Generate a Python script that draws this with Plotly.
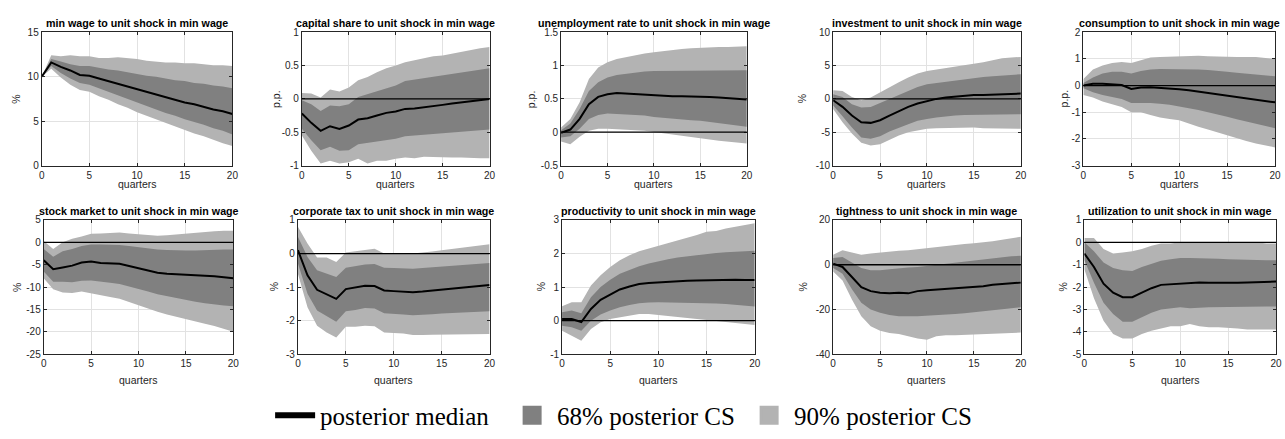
import plotly.graph_objects as go

X = list(range(21))

# ---------------- data ----------------
minwage_med  = [10.0, 11.6, 11.1, 10.7, 10.2, 10.1, 9.8, 9.5, 9.2, 8.9, 8.6, 8.3, 8.0, 7.7, 7.4, 7.1, 6.9, 6.6, 6.3, 6.1, 5.8]
minwage_hi90 = [10.0, 12.4, 12.3, 12.4, 12.3, 12.3, 12.1, 12.1, 12.2, 12.1, 12.0, 11.8, 11.7, 11.6, 11.6, 11.5, 11.5, 11.4, 11.3, 11.3, 11.2]
minwage_hi68 = [10.0, 12.0, 11.7, 11.4, 11.2, 11.2, 11.0, 10.8, 10.7, 10.5, 10.3, 10.1, 10.0, 9.8, 9.6, 9.5, 9.3, 9.2, 9.0, 8.9, 8.7]
minwage_lo68 = [10.0, 11.2, 10.4, 9.8, 9.3, 9.1, 8.7, 8.3, 7.9, 7.5, 7.1, 6.7, 6.3, 5.9, 5.6, 5.2, 4.9, 4.6, 4.2, 3.9, 3.5]
minwage_lo90 = [10.0, 10.9, 9.9, 9.1, 8.5, 8.3, 7.8, 7.4, 6.9, 6.5, 6.0, 5.6, 5.2, 4.8, 4.4, 4.0, 3.6, 3.3, 2.9, 2.5, 2.2]

capshare_med  = [-0.22, -0.36, -0.48, -0.41, -0.45, -0.40, -0.31, -0.29, -0.25, -0.21, -0.19, -0.15, -0.145, -0.13, -0.11, -0.09, -0.07, -0.055, -0.04, -0.02, 0.0]
capshare_hi90 = [0.09, 0.08, 0.02, 0.14, 0.11, 0.17, 0.28, 0.33, 0.40, 0.46, 0.50, 0.55, 0.58, 0.61, 0.64, 0.65, 0.68, 0.70, 0.73, 0.76, 0.78]
capshare_hi68 = [-0.02, -0.08, -0.18, -0.10, -0.11, -0.08, 0.03, 0.07, 0.12, 0.16, 0.20, 0.27, 0.29, 0.31, 0.34, 0.36, 0.38, 0.40, 0.42, 0.44, 0.46]
capshare_lo68 = [-0.45, -0.62, -0.77, -0.72, -0.78, -0.77, -0.68, -0.66, -0.64, -0.62, -0.60, -0.56, -0.55, -0.54, -0.53, -0.51, -0.50, -0.49, -0.48, -0.47, -0.46]
capshare_lo90 = [-0.55, -0.78, -0.97, -0.93, -0.97, -0.95, -0.90, -0.97, -0.93, -0.93, -0.90, -0.88, -0.89, -0.87, -0.87, -0.88, -0.88, -0.88, -0.88, -0.89, -0.89]

unemp_med  = [-0.01, 0.04, 0.20, 0.42, 0.53, 0.57, 0.59, 0.58, 0.58, 0.57, 0.56, 0.54, 0.54, 0.54, 0.54, 0.54, 0.53, 0.52, 0.51, 0.50, 0.49]
unemp_hi90 = [0.07, 0.20, 0.45, 0.80, 0.97, 1.05, 1.10, 1.13, 1.16, 1.18, 1.20, 1.22, 1.24, 1.25, 1.26, 1.27, 1.27, 1.28, 1.28, 1.29, 1.29]
unemp_hi68 = [0.03, 0.13, 0.35, 0.62, 0.75, 0.82, 0.86, 0.88, 0.90, 0.91, 0.92, 0.92, 0.92, 0.92, 0.93, 0.93, 0.93, 0.93, 0.93, 0.93, 0.93]
unemp_lo68 = [-0.08, -0.06, 0.05, 0.20, 0.26, 0.28, 0.28, 0.27, 0.26, 0.25, 0.23, 0.21, 0.20, 0.19, 0.18, 0.17, 0.15, 0.13, 0.11, 0.10, 0.08]
unemp_lo90 = [-0.14, -0.18, -0.07, 0.02, 0.05, 0.05, 0.04, 0.04, 0.03, 0.02, 0.01, -0.01, -0.03, -0.05, -0.07, -0.09, -0.11, -0.13, -0.14, -0.16, -0.17]

invest_med  = [-0.2, -1.2, -2.5, -3.5, -3.6, -3.2, -2.5, -1.8, -1.2, -0.7, -0.3, 0.0, 0.2, 0.35, 0.5, 0.6, 0.6, 0.65, 0.7, 0.75, 0.8]
invest_hi90 = [1.3, 1.2, 0.3, -0.2, 0.2, 1.0, 1.8, 2.5, 3.2, 3.8, 4.2, 4.4, 4.6, 4.8, 5.0, 5.2, 5.5, 5.8, 6.1, 6.2, 6.3]
invest_hi68 = [0.7, 0.3, -0.8, -1.3, -1.2, -0.6, 0.1, 0.7, 1.3, 1.8, 2.2, 2.4, 2.6, 2.8, 3.0, 3.1, 3.3, 3.4, 3.5, 3.6, 3.7]
invest_lo68 = [-1.0, -2.6, -4.3, -5.8, -6.0, -5.6, -4.9, -4.3, -3.8, -3.3, -3.0, -2.8, -2.6, -2.5, -2.4, -2.4, -2.3, -2.3, -2.3, -2.3, -2.3]
invest_lo90 = [-1.5, -3.5, -5.2, -6.6, -7.0, -6.8, -6.1, -5.5, -5.0, -4.7, -4.5, -4.4, -4.3, -4.3, -4.3, -4.3, -4.4, -4.4, -4.5, -4.5, -4.5]

consum_med  = [0.0, 0.07, 0.07, 0.05, 0.02, -0.13, -0.07, -0.06, -0.08, -0.10, -0.14, -0.18, -0.23, -0.28, -0.33, -0.38, -0.44, -0.50, -0.55, -0.59, -0.63]
consum_hi90 = [0.25, 0.6, 0.75, 0.85, 0.88, 0.85, 0.95, 1.05, 1.07, 1.08, 1.10, 1.10, 1.12, 1.10, 1.10, 1.08, 1.07, 1.07, 1.07, 1.03, 1.00]
consum_hi68 = [0.1, 0.3, 0.45, 0.52, 0.52, 0.45, 0.55, 0.6, 0.62, 0.62, 0.62, 0.62, 0.60, 0.58, 0.56, 0.52, 0.48, 0.45, 0.42, 0.38, 0.35]
consum_lo68 = [-0.1, -0.25, -0.35, -0.43, -0.5, -0.65, -0.65, -0.65, -0.68, -0.72, -0.78, -0.85, -0.92, -1.0, -1.08, -1.17, -1.26, -1.35, -1.44, -1.52, -1.6]
consum_lo90 = [-0.35, -0.45, -0.6, -0.7, -0.8, -1.0, -1.0, -1.1, -1.2, -1.25, -1.3, -1.42, -1.55, -1.65, -1.75, -1.85, -1.97, -2.08, -2.17, -2.25, -2.32]

stock_med  = [-4.0, -6.0, -5.6, -5.2, -4.5, -4.3, -4.6, -4.7, -4.8, -5.3, -5.8, -6.3, -6.8, -7.0, -7.1, -7.2, -7.3, -7.5, -7.6, -7.8, -8.0]
stock_hi90 = [0.3, -1.5, 0.0, 0.8, 1.3, 1.9, 2.0, 2.1, 2.2, 2.0, 1.8, 1.6, 1.5, 1.6, 1.8, 2.0, 2.1, 2.3, 2.5, 2.6, 2.6]
stock_hi68 = [-1.5, -3.2, -2.0, -1.5, -0.8, -0.5, -0.5, -0.5, -0.6, -0.8, -1.1, -1.4, -1.6, -1.7, -1.8, -1.8, -1.8, -1.7, -1.7, -1.6, -1.6]
stock_lo68 = [-6.5, -8.8, -8.8, -8.9, -8.6, -8.5, -8.8, -9.0, -9.3, -9.8, -10.4, -11.0, -11.6, -12.1, -12.5, -12.9, -13.3, -13.6, -13.9, -14.1, -14.3]
stock_lo90 = [-8.0, -10.5, -11.2, -11.3, -11.0, -11.5, -11.8, -12.2, -12.6, -13.4, -14.1, -14.8, -15.5, -16.1, -16.7, -17.2, -17.7, -18.2, -18.7, -19.3, -20.0]

corptax_med  = [0.1, -0.65, -1.08, -1.22, -1.35, -1.06, -1.02, -0.96, -0.97, -1.10, -1.12, -1.14, -1.15, -1.13, -1.10, -1.07, -1.04, -1.01, -0.98, -0.96, -0.94]
corptax_hi90 = [0.8, 0.3, -0.12, -0.12, -0.25, 0.03, 0.07, 0.1, 0.14, 0.0, 0.01, 0.0, 0.0, 0.02, 0.06, 0.1, 0.14, 0.18, 0.22, 0.25, 0.28]
corptax_hi68 = [0.5, -0.1, -0.5, -0.6, -0.7, -0.42, -0.37, -0.33, -0.31, -0.42, -0.43, -0.45, -0.45, -0.43, -0.41, -0.38, -0.36, -0.33, -0.31, -0.29, -0.28]
corptax_lo68 = [-0.3, -1.2, -1.7, -1.87, -2.03, -1.72, -1.68, -1.62, -1.64, -1.78, -1.80, -1.82, -1.84, -1.83, -1.81, -1.79, -1.77, -1.75, -1.74, -1.73, -1.72]
corptax_lo90 = [-0.6, -1.6, -2.15, -2.35, -2.5, -2.18, -2.18, -2.15, -2.17, -2.35, -2.36, -2.38, -2.43, -2.43, -2.42, -2.41, -2.40, -2.40, -2.40, -2.40, -2.40]

prod_med  = [0.05, 0.05, -0.04, 0.35, 0.62, 0.78, 0.93, 1.02, 1.09, 1.12, 1.14, 1.17, 1.18, 1.19, 1.20, 1.21, 1.22, 1.23, 1.22, 1.21, 1.21]
prod_hi90 = [0.43, 0.55, 0.55, 1.05, 1.35, 1.6, 1.8, 1.95, 2.07, 2.15, 2.22, 2.30, 2.38, 2.45, 2.55, 2.65, 2.67, 2.75, 2.8, 2.85, 2.9]
prod_hi68 = [0.25, 0.3, 0.22, 0.7, 1.0, 1.22, 1.4, 1.52, 1.62, 1.7, 1.77, 1.83, 1.88, 1.92, 1.96, 2.0, 2.02, 2.04, 2.06, 2.07, 2.08]
prod_lo68 = [-0.15, -0.2, -0.3, 0.0, 0.18, 0.3, 0.4, 0.47, 0.52, 0.54, 0.55, 0.55, 0.55, 0.54, 0.53, 0.52, 0.51, 0.50, 0.48, 0.45, 0.42]
prod_lo90 = [-0.3, -0.45, -0.6, -0.25, -0.05, 0.05, 0.12, 0.15, 0.2, 0.2, 0.18, 0.15, 0.12, 0.08, 0.05, 0.02, -0.02, -0.05, -0.08, -0.1, -0.13]

tight_med  = [0.5, -1.0, -5.5, -10.0, -11.8, -12.5, -12.8, -12.5, -12.8, -11.8, -11.4, -11.1, -10.8, -10.5, -10.4, -10.1, -9.6, -9.0, -8.6, -8.3, -8.0]
tight_hi90 = [4.5, 6.5, 5.5, 4.5, 5.0, 5.5, 5.8, 6.2, 6.5, 7.0, 7.5, 8.0, 8.5, 9.0, 9.3, 9.6, 10.0, 10.5, 11.2, 12.0, 12.5]
tight_hi68 = [3.0, 3.5, 1.0, -1.5, -2.5, -2.5, -2.0, -1.5, -1.2, -1.0, -0.5, 0.0, 0.5, 1.0, 1.5, 2.0, 2.5, 3.0, 3.5, 3.8, 4.0]
tight_lo68 = [-1.5, -4.0, -11.0, -17.0, -20.0, -21.5, -22.5, -23.0, -23.0, -23.0, -22.8, -22.5, -22.3, -22.0, -21.7, -21.5, -21.0, -20.5, -20.0, -19.5, -19.0]
tight_lo90 = [-3.0, -7.0, -15.5, -23.0, -27.5, -29.5, -30.5, -31.0, -32.0, -33.0, -33.5, -32.0, -31.5, -31.5, -31.5, -31.3, -31.0, -31.0, -30.8, -30.5, -30.3]

util_med  = [-0.5, -1.1, -1.85, -2.25, -2.45, -2.45, -2.25, -2.05, -1.9, -1.87, -1.82, -1.79, -1.79, -1.80, -1.81, -1.82, -1.81, -1.79, -1.78, -1.77, -1.75]
util_hi90 = [0.2, 0.2, -0.3, -0.5, -0.45, -0.4, -0.3, -0.15, -0.05, -0.05, 0.0, 0.0, 0.0, 0.0, 0.0, 0.0, 0.0, 0.0, 0.0, -0.05, -0.05]
util_hi68 = [0.0, -0.4, -0.9, -1.15, -1.25, -1.28, -1.1, -0.95, -0.82, -0.75, -0.7, -0.7, -0.7, -0.72, -0.73, -0.75, -0.77, -0.78, -0.79, -0.8, -0.8]
util_lo68 = [-0.8, -1.8, -2.7, -3.2, -3.55, -3.55, -3.35, -3.15, -3.0, -2.95, -2.9, -2.95, -2.92, -2.9, -2.9, -2.9, -2.88, -2.87, -2.87, -2.87, -2.87]
util_lo90 = [-1.2, -2.5, -3.5, -4.1, -4.3, -4.3, -4.1, -3.95, -3.85, -3.75, -3.75, -3.65, -3.75, -3.8, -3.8, -3.82, -3.85, -3.9, -3.9, -3.9, -3.9]

TITLES = ["min wage to unit shock in min wage", "capital share to unit shock in min wage",
          "unemployment rate to unit shock in min wage", "investment to unit shock in min wage",
          "consumption to unit shock in min wage", "stock market to unit shock in min wage",
          "corporate tax to unit shock in min wage", "productivity to unit shock in min wage",
          "tightness to unit shock in min wage", "utilization to unit shock in min wage"]
YLABELS = ["%", "p.p.", "p.p.", "%", "p.p.", "%", "%", "%", "%", "%"]
LEGEND_NAMES = ["posterior median", "68% posterior CS", "90% posterior CS"]
X_TICKS = [0, 5, 10, 15, 20]
Y_TICKS = [[0, 5, 10, 15], [-1, -0.5, 0, 0.5, 1], [-0.5, 0, 0.5, 1, 1.5], [-10, -5, 0, 5, 10],
           [-3, -2, -1, 0, 1, 2], [-25, -20, -15, -10, -5, 0, 5], [-3, -2, -1, 0, 1],
           [-1, 0, 1, 2, 3], [-40, -20, 0, 20], [-5, -4, -3, -2, -1, 0, 1]]

SERIES = [
    (minwage_med, minwage_lo68, minwage_hi68, minwage_lo90, minwage_hi90),
    (capshare_med, capshare_lo68, capshare_hi68, capshare_lo90, capshare_hi90),
    (unemp_med, unemp_lo68, unemp_hi68, unemp_lo90, unemp_hi90),
    (invest_med, invest_lo68, invest_hi68, invest_lo90, invest_hi90),
    (consum_med, consum_lo68, consum_hi68, consum_lo90, consum_hi90),
    (stock_med, stock_lo68, stock_hi68, stock_lo90, stock_hi90),
    (corptax_med, corptax_lo68, corptax_hi68, corptax_lo90, corptax_hi90),
    (prod_med, prod_lo68, prod_hi68, prod_lo90, prod_hi90),
    (tight_med, tight_lo68, tight_hi68, tight_lo90, tight_hi90),
    (util_med, util_lo68, util_hi68, util_lo90, util_hi90),
]

# ---------------- layout (pixels) ----------------
W, H = 1285, 439
XDOM_PX = [(39, 231), (301, 490), (562, 749), (836, 1025), (1088, 1281),
           (41, 232), (297, 490), (563, 757), (836, 1025), (1089, 1282)]
YDOM_PX = [(27, 164), (220, 358)]
YLAB_X_PX = [13, 275, 532, 805, 1068, 14, 273, 542, 806, 1068]
TITLE_Y_PX = [17.5, 210.5]
XLAB_Y_PX = [183, 384]

C68 = "rgb(128,128,128)"
C90 = "rgb(179,179,179)"
AXC = "#262626"
GRID = "#e2e2e2"
FONT = "Liberation Sans, Arial, sans-serif"


def fmt(v):
    return f"{v:g}"


fig = go.Figure()
annotations = []
shapes = []

for i in range(10):
    k = "" if i == 0 else str(i + 1)
    xa, ya = "x" + k, "y" + k
    med, lo68, hi68, lo90, hi90 = SERIES[i]
    row = 0 if i < 5 else 1

    fig.add_trace(go.Scatter(x=X + X[::-1], y=hi90 + lo90[::-1], fill="toself", fillcolor=C90,
                             line=dict(width=0), mode="lines", hoverinfo="skip", showlegend=False,
                             xaxis=xa, yaxis=ya))
    fig.add_trace(go.Scatter(x=X + X[::-1], y=hi68 + lo68[::-1], fill="toself", fillcolor=C68,
                             line=dict(width=0), mode="lines", hoverinfo="skip", showlegend=False,
                             xaxis=xa, yaxis=ya))
    fig.add_trace(go.Scatter(x=X, y=med, mode="lines", line=dict(color="black", width=2),
                             showlegend=False, xaxis=xa, yaxis=ya))

    x0, x1 = XDOM_PX[i]
    y0, y1 = YDOM_PX[row]
    yt = Y_TICKS[i]
    common = dict(ticks="inside", ticklen=3, tickcolor=AXC, showline=True, linecolor=AXC,
                  linewidth=1, mirror="ticks", showgrid=True, gridcolor=GRID, zeroline=False,
                  tickfont=dict(family=FONT, size=10, color=AXC))
    fig.update_layout(**{
        "xaxis" + k: dict(domain=[x0 / W, x1 / W], range=[0, 20], anchor=ya,
                          tickvals=X_TICKS, ticktext=[fmt(v) for v in X_TICKS], **common),
        "yaxis" + k: dict(domain=[1 - y1 / H, 1 - y0 / H], range=[yt[0], yt[-1]], anchor=xa,
                          tickvals=yt, ticktext=[fmt(v) for v in yt], **common),
    })
    if yt[0] < 0 < yt[-1]:
        shapes.append(dict(type="line", xref=xa + " domain", yref=ya, x0=0, x1=1, y0=0, y1=0,
                           line=dict(color="black", width=1.3), layer="above"))
    cx = (x0 + x1) / 2 / W
    annotations.append(dict(text="<b>" + TITLES[i] + "</b>", x=cx, y=1 - TITLE_Y_PX[row] / H,
                            xref="paper", yref="paper", showarrow=False, xanchor="center",
                            yanchor="middle", font=dict(family=FONT, size=10.7, color="black")))
    annotations.append(dict(text="quarters", x=cx, y=1 - XLAB_Y_PX[row] / H, xref="paper", yref="paper",
                            showarrow=False, xanchor="center", yanchor="middle",
                            font=dict(family=FONT, size=10.5, color=AXC)))
    annotations.append(dict(text=YLABELS[i], x=YLAB_X_PX[i] / W, y=1 - (y0 + y1) / 2 / H,
                            xref="paper", yref="paper", showarrow=False, textangle=-90,
                            xanchor="center", yanchor="middle",
                            font=dict(family=FONT, size=10.5, color=AXC)))

# legend proxies
fig.add_trace(go.Scatter(x=[None], y=[None], mode="lines", line=dict(color="black", width=6),
                         name=LEGEND_NAMES[0], showlegend=True))
fig.add_trace(go.Scatter(x=[None], y=[None], mode="markers",
                         marker=dict(symbol="square", size=16, color=C68, line=dict(color=C68, width=3)),
                         name=LEGEND_NAMES[1], showlegend=True))
fig.add_trace(go.Scatter(x=[None], y=[None], mode="markers",
                         marker=dict(symbol="square", size=16, color=C90, line=dict(color=C90, width=3)),
                         name=LEGEND_NAMES[2], showlegend=True))

fig.update_layout(
    width=W, height=H, margin=dict(l=0, r=0, t=0, b=0),
    paper_bgcolor="white", plot_bgcolor="white",
    annotations=annotations, shapes=shapes,
    showlegend=True,
    legend=dict(orientation="h", x=269 / W, xanchor="left", y=1 - 421 / H, yanchor="middle",
                font=dict(family="Liberation Serif, Times New Roman, serif", size=25, color="black"),
                bgcolor="rgba(0,0,0,0)", itemwidth=40, entrywidth=182, entrywidthmode="pixels",
                tracegroupgap=0),
)

fig.write_html("out.html", config={"displayModeBar": False},
               post_script="document.body.style.margin='0px';")
